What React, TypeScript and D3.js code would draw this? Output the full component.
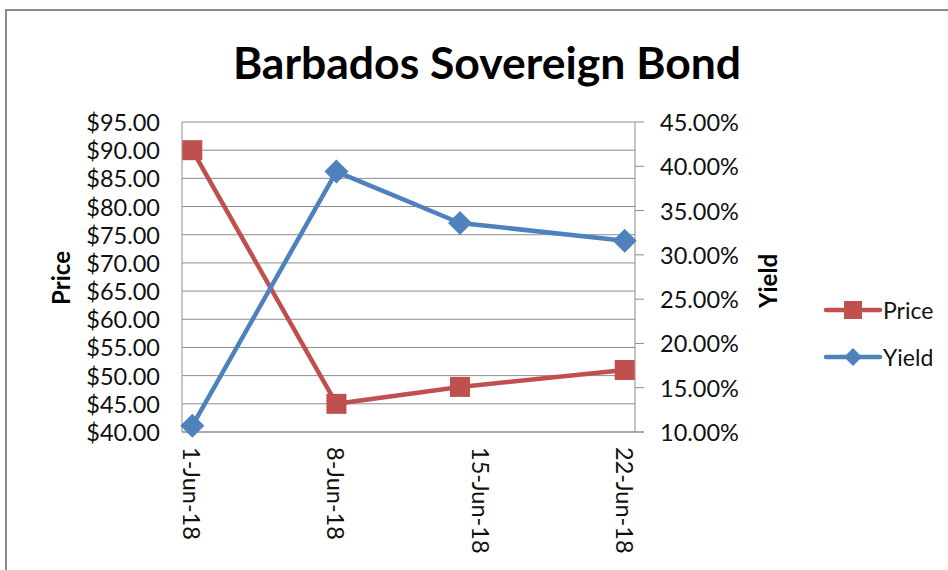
import React from "react";
import * as d3 from "d3";

const dates = ["2018-06-01", "2018-06-08", "2018-06-14", "2018-06-22"];
const priceValues = [90, 45, 48, 51];
const yieldValues = [0.107, 0.394, 0.336, 0.316];
const priceTicks = [40, 45, 50, 55, 60, 65, 70, 75, 80, 85, 90, 95];
const yieldTicks = [0.1, 0.15, 0.2, 0.25, 0.3, 0.35, 0.4, 0.45];
const xTickDates = ["2018-06-01", "2018-06-08", "2018-06-15", "2018-06-22"];
const seriesNames = ["Price", "Yield"];

const RED = "#C0504D";
const BLUE = "#4F81BD";
const GRID = "#8c8c8c";
const FONT = "Lato, 'Open Sans', sans-serif";

const parse = (s: string) => {
  const [y, m, d] = s.split("-").map(Number);
  return new Date(y, m - 1, d);
};

export default function App() {
  const W = 948;
  const H = 570;
  const left = 182;
  const right = 635;
  const top = 122;
  const bottom = 432;
  const DAY = 86400000;

  const x = d3
    .scaleTime()
    .domain([
      new Date(parse("2018-06-01").getTime() - DAY / 2),
      new Date(parse("2018-06-22").getTime() + DAY / 2),
    ])
    .range([left, right]);
  const yP = d3.scaleLinear().domain([40, 95]).range([bottom, top]);
  const yY = d3.scaleLinear().domain([0.1, 0.45]).range([bottom, top]);
  const fmtDate = d3.timeFormat("%-d-%b-%y");
  const fmtPrice = (v: number) => "$" + d3.format(".2f")(v);
  const fmtYield = d3.format(".2%");

  const pts = dates.map((d, i) => ({ date: parse(d), p: priceValues[i], y: yieldValues[i] }));
  const priceLine = d3
    .line<any>()
    .x((d) => x(d.date))
    .y((d) => yP(d.p))(pts) as string;
  const yieldLine = d3
    .line<any>()
    .x((d) => x(d.date))
    .y((d) => yY(d.y))(pts) as string;

  const sq = 20;
  const dm = 12;
  const diamond = (cx: number, cy: number) =>
    `M${cx},${cy - dm}L${cx + dm},${cy}L${cx},${cy + dm}L${cx - dm},${cy}Z`;

  return (
    <svg width={W} height={H} style={{ position: "absolute", left: 0, top: 0 }}>
      <rect x={0} y={0} width={W} height={H} fill="#fff" />
      <rect x={6} y={10} width={W + 20} height={H + 20} fill="#fff" stroke="#8a8a8a" strokeWidth={2} />
      <text
        x={487}
        y={79}
        textAnchor="middle"
        fontFamily={FONT}
        fontWeight="bold"
        fontSize={44.5}
        fill="#000"
      >
        Barbados Sovereign Bond
      </text>

      {/* gridlines */}
      {priceTicks.map((t) => (
        <line key={"g" + t} x1={left} x2={right} y1={yP(t)} y2={yP(t)} stroke={GRID} strokeWidth={1} />
      ))}
      <line x1={left} x2={left} y1={top} y2={bottom} stroke={GRID} strokeWidth={1} />
      <line x1={right} x2={right} y1={top} y2={bottom} stroke={GRID} strokeWidth={1} />
      <line x1={left} x2={right + 9} y1={bottom} y2={bottom} stroke={GRID} strokeWidth={1} />
      {yieldTicks.map((t) => (
        <line key={"rt" + t} x1={right} x2={right + 9} y1={yY(t)} y2={yY(t)} stroke={GRID} strokeWidth={1} />
      ))}

      {/* left axis labels */}
      {priceTicks.map((t) => (
        <text
          key={"pl" + t}
          x={160}
          y={yP(t)}
          textAnchor="end"
          dominantBaseline="central"
          fontFamily={FONT}
          fontSize={23.5}
          fill="#111"
        >
          {fmtPrice(t)}
        </text>
      ))}
      {/* right axis labels */}
      {yieldTicks.map((t) => (
        <text
          key={"yl" + t}
          x={660}
          y={yY(t)}
          textAnchor="start"
          dominantBaseline="central"
          fontFamily={FONT}
          fontSize={23.5}
          fill="#111"
        >
          {fmtYield(t)}
        </text>
      ))}
      {/* x labels */}
      {xTickDates.map((d) => {
        const xx = x(parse(d));
        return (
          <text
            key={"xl" + d}
            transform={`translate(${xx},${447}) rotate(90)`}
            textAnchor="start"
            dominantBaseline="central"
            fontFamily={FONT}
            fontSize={23.5}
            fill="#111"
          >
            {fmtDate(parse(d))}
          </text>
        );
      })}

      {/* axis titles */}
      <text
        transform={`translate(60,278) rotate(-90)`}
        textAnchor="middle"
        dominantBaseline="central"
        fontFamily={FONT}
        fontWeight="bold"
        fontSize={24}
        fill="#000"
      >
        Price
      </text>
      <text
        transform={`translate(767,281) rotate(-90)`}
        textAnchor="middle"
        dominantBaseline="central"
        fontFamily={FONT}
        fontWeight="bold"
        fontSize={24}
        fill="#000"
      >
        Yield
      </text>

      {/* series */}
      <path d={priceLine} fill="none" stroke={RED} strokeWidth={4.5} strokeLinejoin="round" />
      {pts.map((d, i) => (
        <rect key={"ps" + i} x={x(d.date) - sq / 2} y={yP(d.p) - sq / 2} width={sq} height={sq} fill={RED} />
      ))}
      <path d={yieldLine} fill="none" stroke={BLUE} strokeWidth={4.5} strokeLinejoin="round" />
      {pts.map((d, i) => (
        <path key={"yd" + i} d={diamond(x(d.date), yY(d.y))} fill={BLUE} />
      ))}

      {/* legend */}
      {seriesNames.map((name, i) => {
        const ly = 310 + i * 47;
        const color = i === 0 ? RED : BLUE;
        return (
          <g key={name}>
            <line x1={826} x2={880} y1={ly} y2={ly} stroke={color} strokeWidth={4.5} strokeLinecap="round" />
            {i === 0 ? (
              <rect x={853 - 9} y={ly - 9} width={18} height={18} fill={color} />
            ) : (
              <path d={`M853,${ly - 9}L862,${ly}L853,${ly + 9}L844,${ly}Z`} fill={color} />
            )}
            <text
              x={883}
              y={ly}
              dominantBaseline="central"
              fontFamily={FONT}
              fontSize={23}
              fill="#111"
            >
              {name}
            </text>
          </g>
        );
      })}
    </svg>
  );
}
